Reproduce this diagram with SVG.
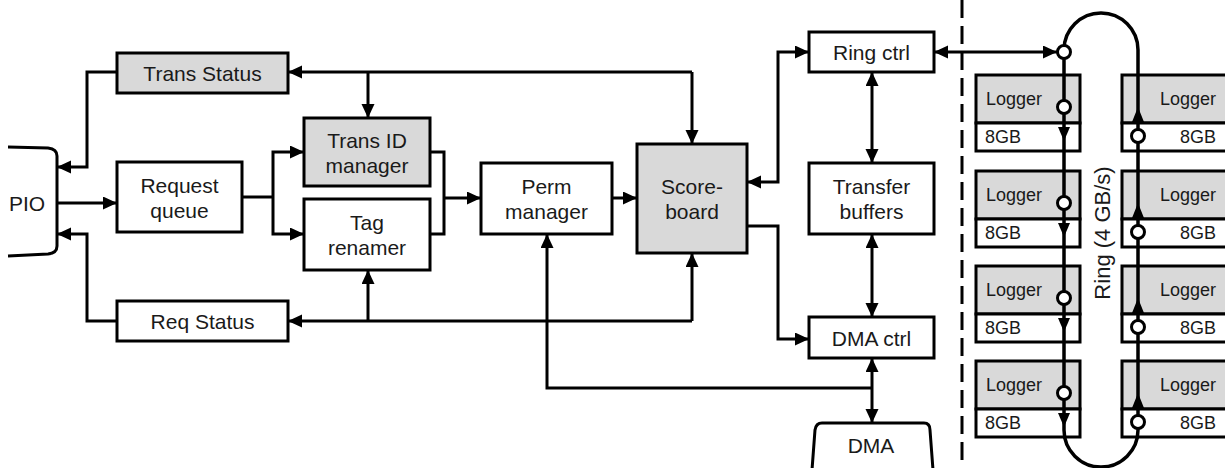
<svg xmlns="http://www.w3.org/2000/svg" width="1225" height="468" viewBox="0 0 1225 468">
  <style>
    .box { fill: #ffffff; stroke: #000; stroke-width: 3; }
    .grey { fill: #d9d9d9; }
    .lbl { font-family: "Liberation Sans", Arial, sans-serif; font-size: 21px; fill: #1a1a1a; text-anchor: middle; dominant-baseline: central; }
    .small { font-size: 18px; }
    .wire { fill: none; stroke: #000; stroke-width: 3; }
    .to { marker-end: url(#ah); }
    .both { marker-start: url(#ah); marker-end: url(#ah); }
    .ring { fill: none; stroke: #000; stroke-width: 3.5; }
    .tap { fill: #fff; stroke: #000; stroke-width: 3; }
    .dash { stroke: #000; stroke-width: 3; stroke-dasharray: 18 8; }
  </style>
  <defs>
    <marker id="ah" markerUnits="userSpaceOnUse" markerWidth="15" markerHeight="14" refX="14" refY="6.5" orient="auto-start-reverse">
      <path d="M0,0 L14,6.5 L0,13 z" fill="#000"/>
    </marker>
  </defs>

  <rect width="1225" height="468" fill="#fff"/>

  <!-- connectors -->
  <g id="connectors">
    <!-- status bus from scoreboard back to Trans Status / Trans ID -->
    <path class="wire to" d="M692,72 H288"/>
    <path class="wire to" d="M692,72 V144"/>
    <path class="wire to" d="M368,72 V118"/>
    <path class="wire to" d="M117,72 H87 V167 H57"/>
    <!-- PIO into request queue -->
    <path class="wire to" d="M57,203 H117"/>
    <!-- request queue fan-out -->
    <path class="wire" d="M242,197 H273"/>
    <path class="wire to" d="M273,197 V152 H304"/>
    <path class="wire to" d="M273,197 V234 H304"/>
    <!-- merge into perm manager -->
    <path class="wire" d="M430,152 H444 V234 H430"/>
    <path class="wire to" d="M444,198 H481"/>
    <path class="wire to" d="M612,198 H637"/>
    <!-- request status bus -->
    <path class="wire to" d="M692,321 H288"/>
    <path class="wire to" d="M692,321 V253"/>
    <path class="wire to" d="M368,321 V270"/>
    <path class="wire to" d="M117,321 H87 V234 H57"/>
    <!-- scoreboard to ring ctrl / DMA ctrl -->
    <path class="wire both" d="M747,182 H778 V52 H809"/>
    <path class="wire to" d="M747,226 H778 V339 H809"/>
    <!-- vertical data path -->
    <path class="wire both" d="M872,72 V163"/>
    <path class="wire both" d="M872,234 V317"/>
    <path class="wire both" d="M872,358 V423"/>
    <path class="wire to" d="M872,388 H547 V234"/>
    <!-- ring ctrl to ring -->
    <path class="wire both" d="M934,52 H1057"/>
  </g>

  <!-- board boundary -->
  <line class="dash" x1="962" y1="0" x2="962" y2="468"/>

  <!-- host-side blocks -->
  <g id="pio">
    <path class="wire" d="M8,147 L48,148 Q57,149 57,156 V246 Q57,253 48,254 L8,256"/>
    <text class="lbl" x="27" y="203">PIO</text>
  </g>
  <g id="trans-status">
    <rect class="box grey" x="117" y="53" width="171" height="40"/>
    <text class="lbl" x="202.5" y="73">Trans Status</text>
  </g>
  <g id="request-queue">
    <rect class="box" x="117" y="162" width="125" height="70"/>
    <text class="lbl" x="179.5" y="185">Request</text>
    <text class="lbl" x="179.5" y="210">queue</text>
  </g>
  <g id="req-status">
    <rect class="box" x="117" y="301" width="171" height="40"/>
    <text class="lbl" x="202.5" y="321">Req Status</text>
  </g>
  <g id="trans-id-manager">
    <rect class="box grey" x="304" y="118" width="126" height="68"/>
    <text class="lbl" x="367" y="140">Trans ID</text>
    <text class="lbl" x="367" y="165">manager</text>
  </g>
  <g id="tag-renamer">
    <rect class="box" x="304" y="199" width="126" height="71"/>
    <text class="lbl" x="367" y="222">Tag</text>
    <text class="lbl" x="367" y="247">renamer</text>
  </g>
  <g id="perm-manager">
    <rect class="box" x="481" y="163" width="131" height="71"/>
    <text class="lbl" x="546.5" y="186">Perm</text>
    <text class="lbl" x="546.5" y="211">manager</text>
  </g>
  <g id="scoreboard">
    <rect class="box grey" x="637" y="144" width="110" height="109"/>
    <text class="lbl" x="692" y="186">Score-</text>
    <text class="lbl" x="692" y="211">board</text>
  </g>
  <g id="ring-ctrl">
    <rect class="box" x="809" y="32" width="125" height="40"/>
    <text class="lbl" x="871.5" y="52">Ring ctrl</text>
  </g>
  <g id="transfer-buffers">
    <rect class="box" x="809" y="163" width="125" height="71"/>
    <text class="lbl" x="871.5" y="186">Transfer</text>
    <text class="lbl" x="871.5" y="211">buffers</text>
  </g>
  <g id="dma-ctrl">
    <rect class="box" x="809" y="317" width="125" height="41"/>
    <text class="lbl" x="871.5" y="338">DMA ctrl</text>
  </g>
  <g id="dma">
    <path class="wire" d="M812,470 L815,430 Q816,423 822,423 L924,423 Q930,423 930,430 L933,470"/>
    <text class="lbl" x="871" y="445">DMA</text>
  </g>

  <!-- loggers, left column -->
  <g id="logger-l1">
    <rect class="box grey" x="976" y="75" width="104" height="48"/>
    <rect class="box" x="976" y="123" width="104" height="28"/>
    <text class="lbl small" x="986" y="99" style="text-anchor:start">Logger</text>
    <text class="lbl small" x="985" y="137" style="text-anchor:start">8GB</text>
  </g>
  <g id="logger-l2">
    <rect class="box grey" x="976" y="171" width="104" height="48"/>
    <rect class="box" x="976" y="219" width="104" height="28"/>
    <text class="lbl small" x="986" y="195" style="text-anchor:start">Logger</text>
    <text class="lbl small" x="985" y="233" style="text-anchor:start">8GB</text>
  </g>
  <g id="logger-l3">
    <rect class="box grey" x="976" y="266" width="104" height="48"/>
    <rect class="box" x="976" y="314" width="104" height="28"/>
    <text class="lbl small" x="986" y="290" style="text-anchor:start">Logger</text>
    <text class="lbl small" x="985" y="328" style="text-anchor:start">8GB</text>
  </g>
  <g id="logger-l4">
    <rect class="box grey" x="976" y="361" width="104" height="48"/>
    <rect class="box" x="976" y="409" width="104" height="28"/>
    <text class="lbl small" x="986" y="385" style="text-anchor:start">Logger</text>
    <text class="lbl small" x="985" y="423" style="text-anchor:start">8GB</text>
  </g>

  <!-- loggers, right column -->
  <g id="logger-r1">
    <rect class="box grey" x="1122" y="75" width="110" height="48"/>
    <rect class="box" x="1122" y="123" width="110" height="28"/>
    <text class="lbl small" x="1216" y="99" style="text-anchor:end">Logger</text>
    <text class="lbl small" x="1216" y="137" style="text-anchor:end">8GB</text>
  </g>
  <g id="logger-r2">
    <rect class="box grey" x="1122" y="171" width="110" height="48"/>
    <rect class="box" x="1122" y="219" width="110" height="28"/>
    <text class="lbl small" x="1216" y="195" style="text-anchor:end">Logger</text>
    <text class="lbl small" x="1216" y="233" style="text-anchor:end">8GB</text>
  </g>
  <g id="logger-r3">
    <rect class="box grey" x="1122" y="266" width="110" height="48"/>
    <rect class="box" x="1122" y="314" width="110" height="28"/>
    <text class="lbl small" x="1216" y="290" style="text-anchor:end">Logger</text>
    <text class="lbl small" x="1216" y="328" style="text-anchor:end">8GB</text>
  </g>
  <g id="logger-r4">
    <rect class="box grey" x="1122" y="361" width="110" height="48"/>
    <rect class="box" x="1122" y="409" width="110" height="28"/>
    <text class="lbl small" x="1216" y="385" style="text-anchor:end">Logger</text>
    <text class="lbl small" x="1216" y="423" style="text-anchor:end">8GB</text>
  </g>

  <!-- ring interconnect -->
  <g id="ring">
    <path class="ring" d="M1064,52 V430 A37,37 0 0 0 1138,430 V50 A37,37 0 0 0 1064,50"/>
    <!-- direction marks -->
    <g fill="#000">
      <path d="M1058,127 H1070 L1064,141 z"/>
      <path d="M1058,223 H1070 L1064,237 z"/>
      <path d="M1058,318 H1070 L1064,332 z"/>
      <path d="M1058,413 H1070 L1064,427 z"/>
      <path d="M1132,122 H1144 L1138,107 z"/>
      <path d="M1132,218 H1144 L1138,203 z"/>
      <path d="M1132,313 H1144 L1138,298 z"/>
      <path d="M1132,408 H1144 L1138,393 z"/>
    </g>
    <!-- taps -->
    <circle class="tap" cx="1064" cy="52" r="6.5"/>
    <circle class="tap" cx="1064" cy="107" r="6.5"/>
    <circle class="tap" cx="1064" cy="203" r="6.5"/>
    <circle class="tap" cx="1064" cy="298" r="6.5"/>
    <circle class="tap" cx="1064" cy="393" r="6.5"/>
    <circle class="tap" cx="1138" cy="136" r="6.5"/>
    <circle class="tap" cx="1138" cy="232" r="6.5"/>
    <circle class="tap" cx="1138" cy="327" r="6.5"/>
    <circle class="tap" cx="1138" cy="422" r="6.5"/>
    <text class="lbl" x="0" y="0" transform="translate(1102,233) rotate(-90)" style="font-size:22px">Ring (4 GB/s)</text>
  </g>
</svg>
